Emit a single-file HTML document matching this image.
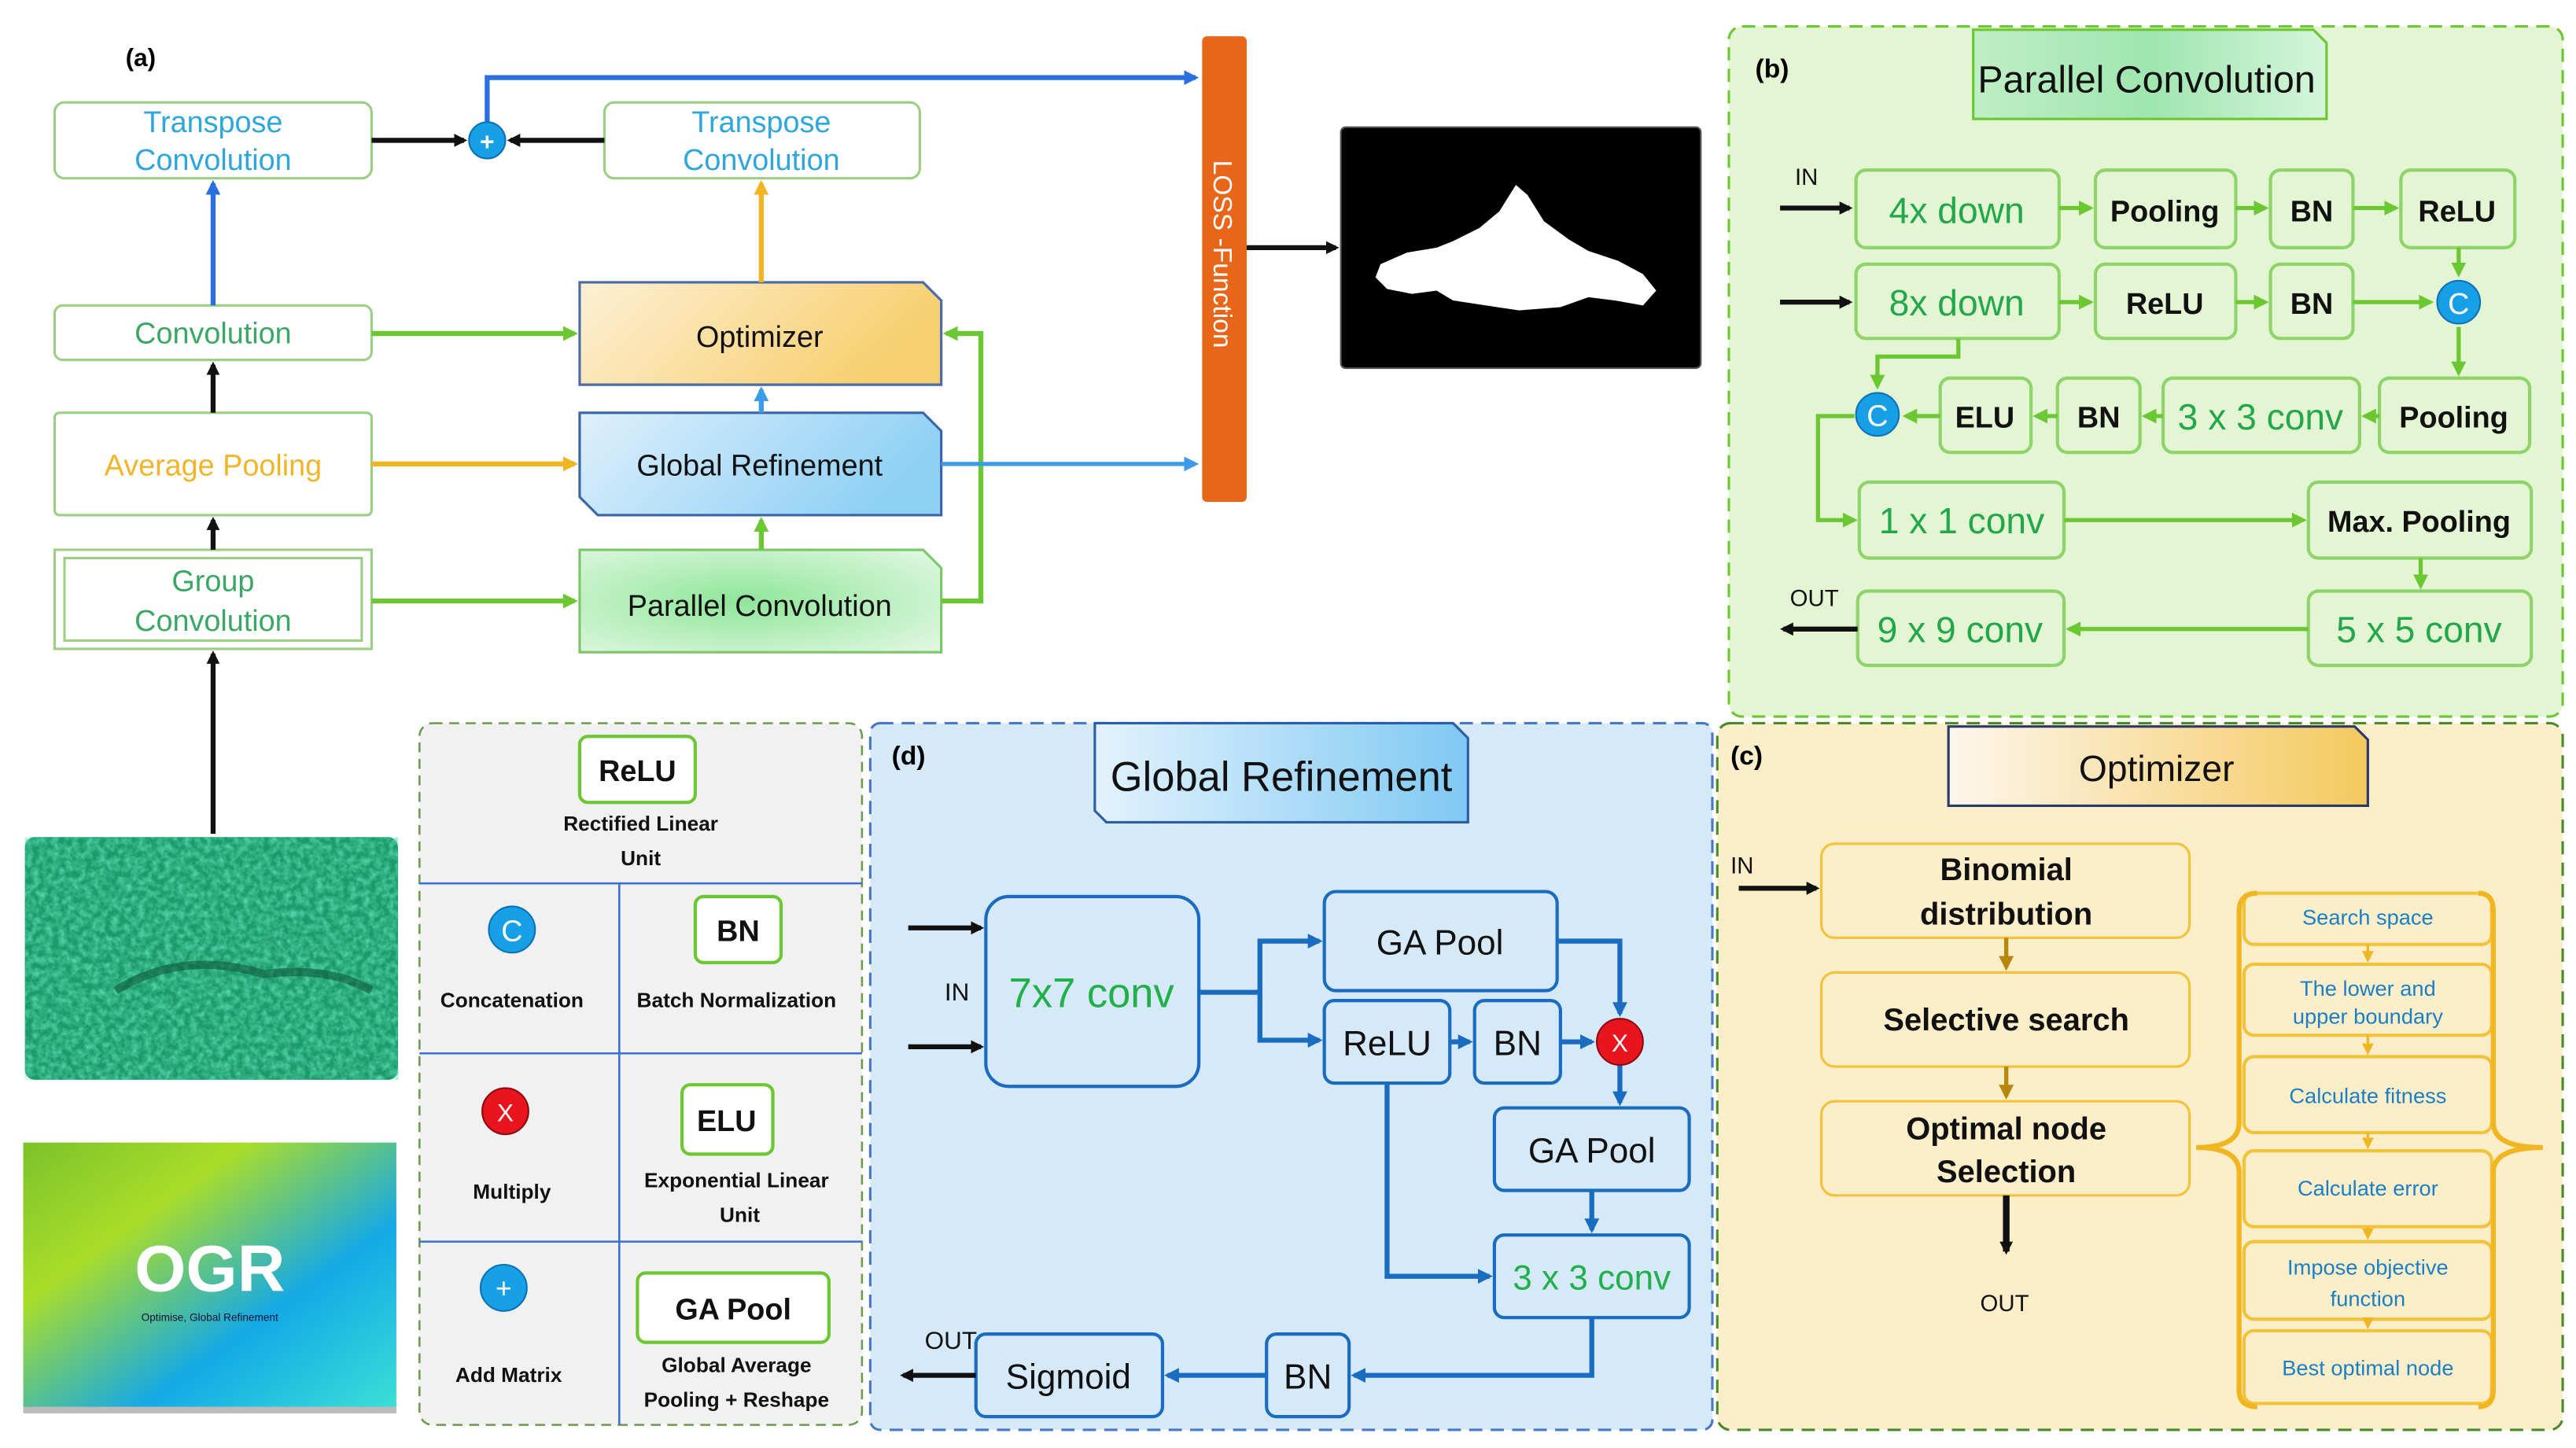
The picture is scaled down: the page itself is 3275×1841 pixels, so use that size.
<!DOCTYPE html>
<html><head><meta charset="utf-8"><style>
html,body{margin:0;padding:0;background:#fff;}
svg{display:block;}
text{font-family:"Liberation Sans",sans-serif;}
</style></head><body>
<svg width="3275" height="1841" viewBox="0 0 1560 877" xmlns="http://www.w3.org/2000/svg">
<defs>
<marker id="ak" markerWidth="8" markerHeight="8" refX="6" refY="4" orient="auto" markerUnits="userSpaceOnUse"><path d="M0,0L8,4L0,8z" fill="#111"/></marker>
<marker id="ab" markerWidth="9" markerHeight="9" refX="7" refY="4.5" orient="auto" markerUnits="userSpaceOnUse"><path d="M0,0L9,4.5L0,9z" fill="#2a6ee0"/></marker>
<marker id="abl" markerWidth="9" markerHeight="9" refX="7" refY="4.5" orient="auto" markerUnits="userSpaceOnUse"><path d="M0,0L9,4.5L0,9z" fill="#3b9be8"/></marker>
<marker id="ag" markerWidth="9" markerHeight="9" refX="7" refY="4.5" orient="auto" markerUnits="userSpaceOnUse"><path d="M0,0L9,4.5L0,9z" fill="#6cc832"/></marker>
<marker id="ay" markerWidth="9" markerHeight="9" refX="7" refY="4.5" orient="auto" markerUnits="userSpaceOnUse"><path d="M0,0L9,4.5L0,9z" fill="#f0b520"/></marker>
<marker id="ad" markerWidth="9" markerHeight="9" refX="7" refY="4.5" orient="auto" markerUnits="userSpaceOnUse"><path d="M0,0L9,4.5L0,9z" fill="#1a6cc0"/></marker>
<marker id="abr" markerWidth="9" markerHeight="9" refX="7" refY="4.5" orient="auto" markerUnits="userSpaceOnUse"><path d="M0,0L9,4.5L0,9z" fill="#b8860b"/></marker>
<marker id="ao" markerWidth="7" markerHeight="7" refX="5" refY="3.5" orient="auto" markerUnits="userSpaceOnUse"><path d="M0,0L7,3.5L0,7z" fill="#f0b520"/></marker>
<linearGradient id="gopt" x1="0" y1="0" x2="1" y2="0.3"><stop offset="0" stop-color="#fdf0d6"/><stop offset="1" stop-color="#f7cf6e"/></linearGradient>
<linearGradient id="ggr" x1="0" y1="0" x2="1" y2="0.3"><stop offset="0" stop-color="#dff0fb"/><stop offset="1" stop-color="#8fd0f5"/></linearGradient>
<radialGradient id="gpc" cx="0.45" cy="0.5" r="0.7"><stop offset="0" stop-color="#8fe69a"/><stop offset="1" stop-color="#dff7df"/></radialGradient>
<linearGradient id="gpt" x1="0" y1="0" x2="1" y2="0"><stop offset="0" stop-color="#bfeec5"/><stop offset="0.5" stop-color="#9fe6b0"/><stop offset="1" stop-color="#d5f5da"/></linearGradient>
<linearGradient id="gdt" x1="0" y1="0" x2="1" y2="0"><stop offset="0" stop-color="#e3f2fd"/><stop offset="1" stop-color="#7fc9f3"/></linearGradient>
<linearGradient id="got" x1="0" y1="0" x2="1" y2="0"><stop offset="0" stop-color="#fdf6ec"/><stop offset="1" stop-color="#f4c95e"/></linearGradient>
<linearGradient id="gogr" x1="0" y1="0" x2="1" y2="1"><stop offset="0" stop-color="#7cc22a"/><stop offset="0.3" stop-color="#a9dd2a"/><stop offset="0.65" stop-color="#14a9e6"/><stop offset="1" stop-color="#3de0d6"/></linearGradient>
<filter id="tex" x="0" y="0" width="1" height="1"><feTurbulence type="fractalNoise" baseFrequency="0.25" numOctaves="3" seed="3"/><feColorMatrix type="matrix" values="0 0 0 0 0.1  0 0 0 0 0.7  0 0 0 0 0.45  0 0 0 -1.6 1.1"/></filter>
</defs>

<!-- ===== Panel (a) ===== -->
<text x="76" y="40" font-family="Liberation Serif" font-weight="bold" font-size="15">(a)</text>
<g fill="#fff" stroke="#9ccf86" stroke-width="1.5">
<rect x="33" y="62" width="192" height="46" rx="6"/>
<rect x="366" y="62" width="191" height="46" rx="6"/>
<rect x="33" y="185" width="192" height="33" rx="5"/>
<rect x="33" y="250" width="192" height="62" rx="3"/>
<rect x="33" y="333" width="192" height="60"/>
<rect x="39" y="338" width="180" height="50" fill="none"/>
</g>
<g font-size="18" text-anchor="middle">
<text x="129" y="80" fill="#2fa6dc">Transpose</text><text x="129" y="103" fill="#2fa6dc">Convolution</text>
<text x="461" y="80" fill="#2fa6dc">Transpose</text><text x="461" y="103" fill="#2fa6dc">Convolution</text>
<text x="129" y="208" fill="#3aa864">Convolution</text>
<text x="129" y="288" fill="#f2b52a">Average Pooling</text>
<text x="129" y="358" fill="#3aa864">Group</text><text x="129" y="382" fill="#3aa864">Convolution</text>
</g>
<path d="M351,171H559L570,182V233H351Z" fill="url(#gopt)" stroke="#4a6aa8" stroke-width="1.5"/>
<path d="M351,250H559L570,261V312H362L351,301Z" fill="url(#ggr)" stroke="#3a64a8" stroke-width="1.5"/>
<path d="M351,333H559L570,344V395H351Z" fill="url(#gpc)" stroke="#7cc66a" stroke-width="1.5"/>
<g font-size="18" text-anchor="middle" fill="#111">
<text x="460" y="210">Optimizer</text>
<text x="460" y="288">Global Refinement</text>
<text x="460" y="373">Parallel Convolution</text>
</g>
<!-- connectors a -->
<path d="M295,74V47H724" fill="none" stroke="#2a6ee0" stroke-width="3" marker-end="url(#ab)"/>
<line x1="225" y1="85" x2="281" y2="85" stroke="#111" stroke-width="3" marker-end="url(#ak)"/>
<line x1="366" y1="85" x2="309" y2="85" stroke="#111" stroke-width="3" marker-end="url(#ak)"/>
<circle cx="295" cy="85" r="11" fill="#18a0e6" stroke="#0b72b6"/>
<text x="295" y="91" text-anchor="middle" fill="#fff" font-size="15" font-weight="bold">+</text>
<line x1="129" y1="185" x2="129" y2="111" stroke="#2a6ee0" stroke-width="3" marker-end="url(#ab)"/>
<line x1="129" y1="250" x2="129" y2="221" stroke="#111" stroke-width="3" marker-end="url(#ak)"/>
<line x1="129" y1="333" x2="129" y2="315" stroke="#111" stroke-width="3" marker-end="url(#ak)"/>
<line x1="129" y1="505" x2="129" y2="396" stroke="#111" stroke-width="3" marker-end="url(#ak)"/>
<line x1="461" y1="171" x2="461" y2="111" stroke="#f0b520" stroke-width="3" marker-end="url(#ay)"/>
<line x1="461" y1="250" x2="461" y2="236" stroke="#3b9be8" stroke-width="3" marker-end="url(#abl)"/>
<line x1="461" y1="333" x2="461" y2="315" stroke="#6cc832" stroke-width="3" marker-end="url(#ag)"/>
<line x1="225" y1="202" x2="348" y2="202" stroke="#6cc832" stroke-width="3" marker-end="url(#ag)"/>
<line x1="225" y1="281" x2="348" y2="281" stroke="#f0b520" stroke-width="3" marker-end="url(#ay)"/>
<line x1="225" y1="364" x2="348" y2="364" stroke="#6cc832" stroke-width="3" marker-end="url(#ag)"/>
<path d="M570,364H594V202H573" fill="none" stroke="#6cc832" stroke-width="3" marker-end="url(#ag)"/>
<line x1="570" y1="281" x2="724" y2="281" stroke="#3b9be8" stroke-width="2.5" marker-end="url(#abl)"/>
<rect x="728" y="22" width="27" height="282" rx="3" fill="#e8661a"/>
<text transform="translate(735,97) rotate(90)" fill="#fff" font-size="16">LOSS -Function</text>
<line x1="755" y1="150" x2="809" y2="150" stroke="#111" stroke-width="3" marker-end="url(#ak)"/>
<rect x="812" y="77" width="218" height="146" rx="3" fill="#000" stroke="#555"/>
<path d="M836,160L852,153L870,150L880,146L896,138L908,128L918,112L925,118L935,134L950,145L962,152L980,158L995,166L1003,176L995,185L978,182L962,180L945,186L920,188L900,185L880,182L870,176L855,178L840,175L833,168Z" fill="#fff"/>
<!-- photo -->
<rect x="15" y="507" width="226" height="147" rx="6" fill="#1d9a6a"/>
<rect x="15" y="507" width="226" height="147" rx="6" filter="url(#tex)"/>
<path d="M70,600Q110,575 160,590Q200,585 225,600" stroke="#0f5a3c" stroke-width="5" fill="none" opacity="0.6"/>
<!-- OGR -->
<rect x="14" y="692" width="226" height="163" fill="url(#gogr)"/>
<rect x="14" y="852" width="226" height="4" fill="#bbb"/>
<text x="127" y="782" text-anchor="middle" fill="#fff" font-size="40" font-weight="bold">OGR</text>
<text x="127" y="800" text-anchor="middle" fill="#113" font-size="6.5">Optimise, Global Refinement</text>

<!-- ===== Legend ===== -->
<rect x="254" y="438" width="268" height="425" rx="8" fill="#f1f1f1" stroke="#6c9a4c" stroke-width="1.2" stroke-dasharray="6,4"/>
<g stroke="#3a6ed0" stroke-width="1.2">
<line x1="254" y1="535" x2="522" y2="535"/><line x1="254" y1="638" x2="522" y2="638"/><line x1="254" y1="752" x2="522" y2="752"/><line x1="375" y1="535" x2="375" y2="863"/>
</g>
<g fill="#fff" stroke="#6cc832" stroke-width="2">
<rect x="351" y="446" width="70" height="40" rx="5"/>
<rect x="421" y="543" width="52" height="40" rx="5"/>
<rect x="413" y="657" width="55" height="42" rx="5"/>
<rect x="386" y="771" width="116" height="42" rx="5"/>
</g>
<g font-weight="bold" text-anchor="middle" fill="#111">
<text x="386" y="473" font-size="18">ReLU</text>
<text x="447" y="570" font-size="18">BN</text>
<text x="440" y="685" font-size="18">ELU</text>
<text x="444" y="799" font-size="18">GA Pool</text>
<g font-size="12.5">
<text x="388" y="503">Rectified Linear</text><text x="388" y="524">Unit</text>
<text x="310" y="610">Concatenation</text><text x="446" y="610">Batch Normalization</text>
<text x="310" y="726">Multiply</text><text x="446" y="719">Exponential Linear</text><text x="448" y="740">Unit</text>
<text x="308" y="837">Add Matrix</text><text x="446" y="831">Global Average</text><text x="446" y="852">Pooling + Reshape</text>
</g></g>
<circle cx="310" cy="563" r="14" fill="#18a0e6" stroke="#0b72b6"/><text x="310" y="570" text-anchor="middle" fill="#fff" font-size="18">C</text>
<circle cx="306" cy="673" r="14" fill="#e8141e" stroke="#8a0c10"/><text x="306" y="679" text-anchor="middle" fill="#fff" font-size="15">X</text>
<circle cx="305" cy="780" r="14" fill="#18a0e6" stroke="#0b72b6"/><text x="305" y="786" text-anchor="middle" fill="#fff" font-size="17">+</text>

<!-- ===== Panel (d) ===== -->
<rect x="527" y="438" width="510" height="428" rx="6" fill="#d6e9f8" stroke="#4a78c8" stroke-width="1.5" stroke-dasharray="8,5"/>
<text x="540" y="463" font-family="Liberation Serif" font-weight="bold" font-size="16">(d)</text>
<path d="M663,438H880L889,447V498H670L663,491Z" fill="url(#gdt)" stroke="#2a5fa8" stroke-width="1.5"/>
<text x="776" y="479" text-anchor="middle" font-size="25" fill="#111">Global Refinement</text>
<g fill="#d6e9f8" stroke="#1a6cc0" stroke-width="2">
<rect x="597" y="543" width="129" height="115" rx="14"/>
<rect x="802" y="540" width="141" height="60" rx="7"/>
<rect x="802" y="606" width="76" height="50" rx="6"/>
<rect x="893" y="606" width="52" height="50" rx="6"/>
<rect x="905" y="671" width="118" height="50" rx="6"/>
<rect x="905" y="748" width="118" height="50" rx="6"/>
<rect x="591" y="808" width="113" height="50" rx="6"/>
<rect x="767" y="808" width="50" height="50" rx="6"/>
</g>
<g text-anchor="middle" fill="#111" font-size="21">
<text x="661" y="610" fill="#22b04a" font-size="25">7x7 conv</text>
<text x="872" y="578">GA Pool</text>
<text x="840" y="639">ReLU</text>
<text x="919" y="639">BN</text>
<text x="964" y="704">GA Pool</text>
<text x="964" y="781" fill="#22b04a">3 x 3 conv</text>
<text x="647" y="841">Sigmoid</text>
<text x="792" y="841">BN</text>
</g>
<text x="572" y="606" font-size="15" fill="#111">IN</text>
<text x="560" y="817" font-size="15" fill="#111">OUT</text>
<g stroke="#111" stroke-width="3">
<line x1="550" y1="562" x2="594" y2="562" marker-end="url(#ak)"/>
<line x1="550" y1="634" x2="594" y2="634" marker-end="url(#ak)"/>
<line x1="591" y1="833" x2="547" y2="833" marker-end="url(#ak)"/>
</g>
<g stroke="#1a6cc0" stroke-width="3" fill="none">
<path d="M726,601H763V570H799" marker-end="url(#ad)"/>
<path d="M763,601V630H799" marker-end="url(#ad)"/>
<path d="M943,570H981V614" marker-end="url(#ad)"/>
<path d="M878,631H890" marker-end="url(#ad)"/>
<path d="M945,631H964" marker-end="url(#ad)"/>
<path d="M981,645V668" marker-end="url(#ad)"/>
<path d="M964,721V745" marker-end="url(#ad)"/>
<path d="M840,656V773H902" marker-end="url(#ad)"/>
<path d="M964,798V833H820" marker-end="url(#ad)"/>
<path d="M767,833H707" marker-end="url(#ad)"/>
</g>
<circle cx="981" cy="631" r="14" fill="#e8141e" stroke="#8a0c10"/><text x="981" y="637" text-anchor="middle" fill="#fff" font-size="15">X</text>

<!-- ===== Panel (b) ===== -->
<rect x="1047" y="16" width="505" height="418" rx="8" fill="#e3f5d2" stroke="#6cc832" stroke-width="1.5" stroke-dasharray="8,5"/>
<text x="1063" y="47" font-family="Liberation Serif" font-weight="bold" font-size="16">(b)</text>
<path d="M1195,18H1401L1409,26V72H1195Z" fill="url(#gpt)" stroke="#6cc832" stroke-width="1.5"/>
<text x="1300" y="56" text-anchor="middle" font-size="23" fill="#111">Parallel Convolution</text>
<g fill="#e3f5d2" stroke="#8ed46a" stroke-width="2">
<rect x="1124" y="103" width="123" height="47" rx="6"/><rect x="1269" y="103" width="85" height="47" rx="6"/><rect x="1375" y="103" width="50" height="47" rx="6"/><rect x="1454" y="103" width="69" height="47" rx="6"/>
<rect x="1124" y="160" width="123" height="45" rx="6"/><rect x="1269" y="160" width="85" height="45" rx="6"/><rect x="1375" y="160" width="50" height="45" rx="6"/>
<rect x="1175" y="229" width="55" height="45" rx="6"/><rect x="1246" y="229" width="50" height="45" rx="6"/><rect x="1310" y="229" width="119" height="45" rx="6"/><rect x="1441" y="229" width="91" height="45" rx="6"/>
<rect x="1126" y="292" width="124" height="46" rx="6"/><rect x="1398" y="292" width="135" height="46" rx="6"/>
<rect x="1125" y="358" width="125" height="45" rx="6"/><rect x="1398" y="358" width="135" height="45" rx="6"/>
</g>
<g text-anchor="middle" font-size="20" fill="#111">
<g fill="#22a84a" font-size="22"><text x="1185" y="135">4x down</text><text x="1185" y="191">8x down</text><text x="1369" y="260">3 x 3 conv</text><text x="1188" y="323">1 x 1 conv</text><text x="1187" y="389">9 x 9 conv</text><text x="1465" y="389">5 x 5 conv</text></g>
<g font-weight="bold" font-size="18"><text x="1311" y="134">Pooling</text><text x="1400" y="134">BN</text><text x="1488" y="134">ReLU</text><text x="1311" y="190">ReLU</text><text x="1400" y="190">BN</text><text x="1202" y="259">ELU</text><text x="1271" y="259">BN</text><text x="1486" y="259">Pooling</text><text x="1465" y="322">Max. Pooling</text></g>
</g>
<text x="1087" y="112" font-size="14" fill="#111">IN</text>
<text x="1084" y="367" font-size="14" fill="#111">OUT</text>
<g stroke="#111" stroke-width="3">
<line x1="1078" y1="126" x2="1120" y2="126" marker-end="url(#ak)"/>
<line x1="1078" y1="183" x2="1120" y2="183" marker-end="url(#ak)"/>
<line x1="1125" y1="381" x2="1080" y2="381" marker-end="url(#ak)"/>
</g>
<g stroke="#6cc832" stroke-width="2.5" fill="none">
<path d="M1247,126H1266" marker-end="url(#ag)"/><path d="M1354,126H1372" marker-end="url(#ag)"/><path d="M1425,126H1451" marker-end="url(#ag)"/>
<path d="M1247,183H1266" marker-end="url(#ag)"/><path d="M1354,183H1372" marker-end="url(#ag)"/><path d="M1425,183H1472" marker-end="url(#ag)"/>
<path d="M1489,150V166" marker-end="url(#ag)"/><path d="M1489,198V226" marker-end="url(#ag)"/>
<path d="M1441,252H1432" marker-end="url(#ag)"/><path d="M1310,252H1299" marker-end="url(#ag)"/><path d="M1246,252H1233" marker-end="url(#ag)"/><path d="M1175,252H1154" marker-end="url(#ag)"/>
<path d="M1186,205V216H1137V234" marker-end="url(#ag)"/>
<path d="M1123,252H1101V315H1123" marker-end="url(#ag)"/>
<path d="M1250,315H1395" marker-end="url(#ag)"/>
<path d="M1466,338V355" marker-end="url(#ag)"/>
<path d="M1398,381H1253" marker-end="url(#ag)"/>
</g>
<circle cx="1489" cy="183" r="13" fill="#18a0e6" stroke="#0b72b6"/><text x="1489" y="190" text-anchor="middle" fill="#fff" font-size="18">C</text>
<circle cx="1137" cy="251" r="13" fill="#18a0e6" stroke="#0b72b6"/><text x="1137" y="258" text-anchor="middle" fill="#fff" font-size="18">C</text>

<!-- ===== Panel (c) ===== -->
<rect x="1040" y="438" width="512" height="428" rx="8" fill="#fbeec9" stroke="#4a8a2a" stroke-width="1.5" stroke-dasharray="8,5"/>
<text x="1048" y="463" font-family="Liberation Serif" font-weight="bold" font-size="16">(c)</text>
<path d="M1180,440H1426L1434,448V488H1180Z" fill="url(#got)" stroke="#2a3a6a" stroke-width="1.5"/>
<text x="1306" y="473" text-anchor="middle" font-size="22" fill="#111">Optimizer</text>
<g fill="#fbeec9" stroke="#f2c23a" stroke-width="1.5">
<rect x="1103" y="511" width="223" height="57" rx="8"/>
<rect x="1103" y="589" width="223" height="57" rx="8"/>
<rect x="1103" y="667" width="223" height="57" rx="8"/>
</g>
<g text-anchor="middle" font-weight="bold" font-size="19" fill="#111">
<text x="1215" y="533">Binomial</text><text x="1215" y="560">distribution</text>
<text x="1215" y="624">Selective search</text>
<text x="1215" y="690">Optimal node</text><text x="1215" y="716">Selection</text>
</g>
<text x="1048" y="529" font-size="14" fill="#111">IN</text>
<text x="1214" y="794" text-anchor="middle" font-size="14" fill="#111">OUT</text>
<line x1="1053" y1="538" x2="1100" y2="538" stroke="#111" stroke-width="3" marker-end="url(#ak)"/>
<line x1="1215" y1="724" x2="1215" y2="758" stroke="#111" stroke-width="4" marker-end="url(#ak)"/>
<line x1="1215" y1="568" x2="1215" y2="586" stroke="#b8860b" stroke-width="2.5" marker-end="url(#abr)"/>
<line x1="1215" y1="646" x2="1215" y2="664" stroke="#b8860b" stroke-width="2.5" marker-end="url(#abr)"/>
<g fill="#fbeec9" stroke="#f2c23a" stroke-width="2">
<rect x="1359" y="541" width="150" height="31" rx="6"/>
<rect x="1359" y="584" width="150" height="43" rx="6"/>
<rect x="1359" y="640" width="150" height="46" rx="6"/>
<rect x="1359" y="697" width="150" height="46" rx="6"/>
<rect x="1359" y="752" width="150" height="47" rx="6"/>
<rect x="1359" y="806" width="150" height="44" rx="6"/>
</g>
<g stroke="#f0b520" stroke-width="3" fill="none">
<path d="M1367,541Q1356,541 1356,552V680Q1356,695 1330,695Q1356,695 1356,710V842Q1356,852 1367,852"/>
<path d="M1501,541Q1510,541 1510,552V680Q1510,695 1540,695Q1510,695 1510,710V842Q1510,852 1501,852"/>
</g>
<g stroke="#f0b520" stroke-width="1.5">
<line x1="1434" y1="572" x2="1434" y2="581" marker-end="url(#ao)"/>
<line x1="1434" y1="627" x2="1434" y2="637" marker-end="url(#ao)"/>
<line x1="1434" y1="686" x2="1434" y2="694" marker-end="url(#ao)"/>
<line x1="1434" y1="743" x2="1434" y2="749" marker-end="url(#ao)"/>
<line x1="1434" y1="799" x2="1434" y2="803" marker-end="url(#ao)"/>
</g>
<g text-anchor="middle" font-size="13" fill="#1a7fc4">
<text x="1434" y="560">Search space</text>
<text x="1434" y="603">The lower and</text><text x="1434" y="620">upper boundary</text>
<text x="1434" y="668">Calculate fitness</text>
<text x="1434" y="724">Calculate error</text>
<text x="1434" y="772">Impose objective</text><text x="1434" y="791">function</text>
<text x="1434" y="833">Best optimal node</text>
</g>
</svg>
</body></html>
